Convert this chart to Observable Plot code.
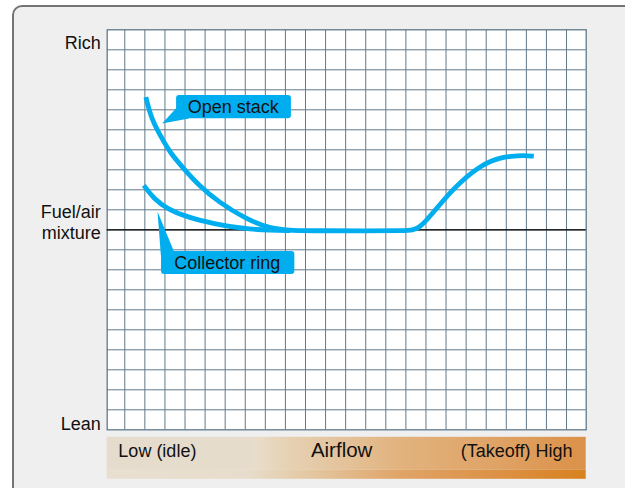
<!DOCTYPE html>
<html><head><meta charset="utf-8">
<script src="https://cdn.jsdelivr.net/npm/d3@7"></script>
<script src="https://cdn.jsdelivr.net/npm/@observablehq/plot@0.6"></script>
<style>
html,body{margin:0;padding:0;background:#fff;overflow:hidden;}
#panel{position:absolute;left:12px;top:5px;width:700px;height:600px;box-sizing:border-box;border:2px solid #747474;border-radius:10px;background:#efefef;}
#chart{position:absolute;left:0;top:0;}
</style></head><body>
<div id="panel"></div><div id="chart"></div>
<script>
// ---- data ----
const openStackX = [2.05, 2.32, 2.86, 3.24, 3.94, 4.69, 5.68, 7.01, 8.26, 9.25];
const openStackY = [16.63, 15.55, 14.55, 13.88, 13.05, 12.22, 11.38, 10.55, 10.05, 9.96];
const collectorX = [1.95, 2.45, 3.11, 4.11, 5.43, 6.93, 8.26, 9.25];
const collectorY = [12.22, 11.55, 11.05, 10.63, 10.30, 10.05, 9.97, 9.96];
const sharedX = [11.0, 13.0, 14.98, 15.33, 15.63, 15.93, 16.23, 16.73, 17.23, 17.72, 18.22, 18.72, 19.21, 19.71, 20.21, 20.87, 21.37];
const sharedY = [9.95, 9.95, 9.95, 9.99, 10.09, 10.37, 10.72, 11.30, 11.88, 12.38, 12.80, 13.17, 13.43, 13.60, 13.68, 13.72, 13.68];
const stoichY = 10;
const yLabels = ["Rich", "Fuel/air\nmixture", "Lean"];
const yLabelValues = [19.4, 10.39, 0.32];
const xLabels = ["Low (idle)", "Airflow", "(Takeoff) High"];
const seriesNames = ["Open stack", "Collector ring"];
const gridX = d3.range(1, 24);
const gridY = d3.range(1, 20);

// ---- tables ----
const openStack = openStackX.map((x, i) => ({x, y: openStackY[i]})).concat(sharedX.map((x, i) => ({x, y: sharedY[i]})));
const collector = collectorX.map((x, i) => ({x, y: collectorY[i]}));
const yLab = yLabels.map((t, i) => ({t, y: yLabelValues[i]}));

const BLUE = "#00aeef";
const GRID = "#61798a";
const FONT = "'Liberation Sans', Arial, Helvetica, sans-serif";

// callout annotations (label, box, pointer triangle)
const callouts = [
  {label: seriesNames[0], x1: 3.58, x2: 9.30, y1: 15.55, y2: 16.72, tx: 6.40, ty: 16.13,
   tri: [[3.58, 16.10], [2.86, 15.32], [4.20, 15.57]]},
  {label: seriesNames[1], x1: 2.83, x2: 9.47, y1: 7.77, y2: 8.92, tx: 6.10, ty: 8.34,
   tri: [[2.63, 10.92], [2.83, 8.30], [3.45, 8.92]]}
];

function airflowBar(index, scales, values, dims) {
  const x0 = dims.marginLeft, x1 = dims.width - dims.marginRight;
  const top = dims.height - dims.marginBottom + 7.5;
  const g = d3.create("svg:g");
  const defs = g.append("defs");
  const gt = defs.append("linearGradient").attr("id", "barTop");
  [[0, "#e5dccd"], [0.29, "#e5dccc"], [0.31, "#e9ddca"], [0.38, "#e6d1b3"], [0.49, "#e4c39c"],
   [0.61, "#e2b37e"], [0.82, "#dfa265"], [1, "#db9148"]]
    .forEach(([o, c]) => gt.append("stop").attr("offset", o).attr("stop-color", c));
  const gb = defs.append("linearGradient").attr("id", "barBot");
  [[0, "#e8dfd0"], [0.29, "#e8ddcc"], [0.38, "#e5cfae"], [0.49, "#e2bb8e"],
   [0.61, "#e0a468"], [0.82, "#dc9144"], [1, "#d8811e"]]
    .forEach(([o, c]) => gb.append("stop").attr("offset", o).attr("stop-color", c));
  g.append("rect").attr("x", x0).attr("y", top).attr("width", x1 - x0).attr("height", 33).attr("fill", "url(#barTop)");
  g.append("rect").attr("x", x0).attr("y", top + 33).attr("width", x1 - x0).attr("height", 9).attr("fill", "url(#barBot)");
  return g.node();
}

const chart = Plot.plot({
  width: 625,
  height: 488,
  marginLeft: 106.7,
  marginRight: 39.3,
  marginTop: 29.3,
  marginBottom: 58.7,
  x: {domain: [0, 24], range: [104.2, 586.1], axis: null},
  y: {domain: [0, 20], axis: null},
  style: {background: "transparent", fontFamily: FONT, color: "#111", overflow: "visible"},
  marks: [
    Plot.frame({fill: "white", stroke: null}),
    Plot.ruleX(gridX, {stroke: GRID, strokeWidth: 1}),
    Plot.ruleY(gridY, {stroke: GRID, strokeWidth: 1}),
    Plot.frame({stroke: GRID, strokeWidth: 1.3}),
    Plot.ruleY([stoichY], {stroke: "#000", strokeWidth: 1.3}),
    Plot.line(openStack, {x: "x", y: "y", stroke: BLUE, strokeWidth: 4.8, curve: "basis", strokeLinecap: "butt"}),
    Plot.line(collector, {x: "x", y: "y", stroke: BLUE, strokeWidth: 4.8, curve: "basis", strokeLinecap: "butt"}),
    // callouts
    ...callouts.map(c => Plot.line(c.tri.map(([x, y]) => ({x, y})), {x: "x", y: "y", fill: BLUE, stroke: "none"})),
    Plot.rect(callouts, {x1: "x1", x2: "x2", y1: "y1", y2: "y2", fill: BLUE, rx: 3}),
    Plot.text(callouts, {x: "tx", y: "ty", text: "label", fontSize: 18, fill: "#111"}),
    // y labels
    Plot.text(yLab, {y: "y", text: "t", frameAnchor: "left", dx: -6.5, textAnchor: "end", fontSize: 18, lineHeight: 1.17, fill: "#111"}),
    // airflow bar
    airflowBar,
    Plot.text([xLabels[0]], {x: 0.68, frameAnchor: "bottom", dy: 27.5, textAnchor: "start", fontSize: 18, fill: "#111"}),
    Plot.text([xLabels[1]], {x: 11.8, frameAnchor: "bottom", dy: 27.5, textAnchor: "middle", fontSize: 20.5, fill: "#111"}),
    Plot.text([xLabels[2]], {x: 23.3, frameAnchor: "bottom", dy: 27.5, textAnchor: "end", fontSize: 18, fill: "#111"})
  ]
});
document.getElementById("chart").append(chart);
</script>
</body></html>
